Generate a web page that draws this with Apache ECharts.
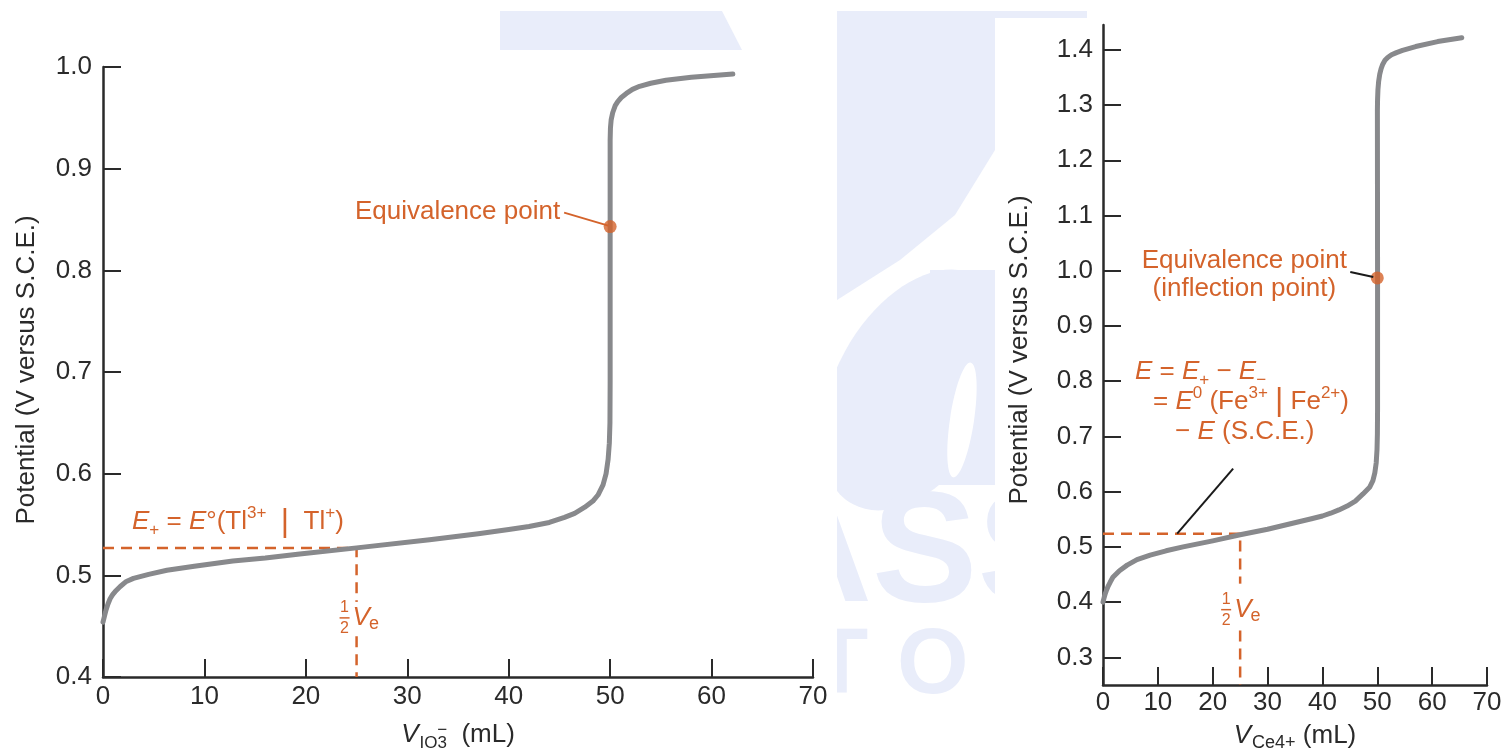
<!DOCTYPE html>
<html>
<head>
<meta charset="utf-8">
<script src="https://cdn.jsdelivr.net/npm/echarts@6/dist/echarts.min.js"></script>
<style>html,body{margin:0;padding:0;background:#fff}#c{width:1507px;height:749px}</style>
</head>
<body>
<div id="c"></div>
<script>
// ---------- data ----------
const xTicks = [0, 10, 20, 30, 40, 50, 60, 70];
const leftYTicks = [0.4, 0.5, 0.6, 0.7, 0.8, 0.9, 1.0];
const rightYTicks = [0.3, 0.4, 0.5, 0.6, 0.7, 0.8, 0.9, 1.0, 1.1, 1.2, 1.3, 1.4];

// Tl+ titrated with IO3-
const leftVol = [0, 0.15, 0.3, 0.5, 0.7, 0.95, 1.2, 1.7, 2.3, 3, 4.5, 6.3, 9, 12.8, 16, 19.4, 25, 32.2, 37, 40, 42, 44, 45.5, 46.5, 47.5, 48.3, 48.8, 49.3, 49.6, 49.8, 49.92, 49.98, 50.0, 50.0, 50.03, 50.1, 50.25, 50.5, 50.75, 51.1, 51.6, 52.2, 52.9, 54, 55.5, 58, 62.1];
const leftPot = [0.454, 0.460, 0.466, 0.472, 0.477, 0.481, 0.484, 0.489, 0.494, 0.497, 0.501, 0.505, 0.509, 0.514, 0.517, 0.521, 0.527, 0.535, 0.541, 0.545, 0.548, 0.552, 0.557, 0.561, 0.567, 0.573, 0.579, 0.589, 0.600, 0.614, 0.630, 0.650, 0.690, 0.928, 0.940, 0.948, 0.955, 0.962, 0.966, 0.970, 0.974, 0.978, 0.981, 0.984, 0.987, 0.990, 0.993];

// Fe2+ titrated with Ce4+
const rightVol = [0, 0.2, 0.4, 0.65, 0.9, 1.3, 1.8, 3, 4.4, 6.2, 8.6, 11.5, 14.6, 20, 25, 30, 35.9, 38, 40, 41.5, 43, 44.5, 46, 47.4, 48.6, 49.2, 49.55, 49.8, 49.95, 50.02, 50.05, 50.05, 50.02, 50.05, 50.12, 50.25, 50.45, 50.7, 51.0, 51.4, 51.9, 52.6, 53.5, 54.6, 57, 61, 65.4];
const rightPot = [0.400, 0.408, 0.415, 0.422, 0.428, 0.436, 0.445, 0.457, 0.467, 0.477, 0.485, 0.493, 0.500, 0.511, 0.522, 0.532, 0.546, 0.551, 0.556, 0.561, 0.567, 0.574, 0.583, 0.596, 0.608, 0.620, 0.634, 0.652, 0.676, 0.705, 0.75, 1.00, 1.290, 1.310, 1.328, 1.343, 1.356, 1.366, 1.374, 1.381, 1.386, 1.391, 1.395, 1.399, 1.406, 1.415, 1.422];

const leftEq = [50, 0.843];
const rightEq = [50, 0.987];
const leftHalf = [25, 0.527];
const rightHalf = [25, 0.524];

// ---------- style ----------
const ORANGE = '#d4632b';
const GRAY = '#88898c';
const INK = '#2a2a2a';
const FF = '"Liberation Sans", Arial, sans-serif';
const WM = '#e9edfa';
const TICKFS = 26;
const ANNFS = 26;

const chart = echarts.init(document.getElementById('c'), null, {renderer: 'canvas'});

function zip(a, b) { return a.map((v, i) => [v, b[i]]); }

function xAxisCfg(gi, margin) {
  return {
    type: 'value', gridIndex: gi, min: xTicks[0], max: xTicks[xTicks.length - 1], interval: 10,
    axisLine: {show: true, lineStyle: {color: INK, width: 2.5}},
    axisTick: {show: true, inside: true, length: 18, lineStyle: {color: INK, width: 2}},
    axisLabel: {show: true, margin: margin, fontSize: TICKFS, color: INK, fontFamily: FF, showMinLabel: true, showMaxLabel: true},
    splitLine: {show: false}
  };
}

const option = {
  backgroundColor: '#fff',
  animation: false,
  grid: [
    {left: 103, top: 67, width: 710, height: 610},
    {left: 1103, top: 25, width: 384, height: 660}
  ],
  xAxis: [xAxisCfg(0, 7), xAxisCfg(1, 5)],
  yAxis: [
    {
      type: 'value', gridIndex: 0, min: 0.4, max: 1.0, interval: 0.1,
      axisLine: {show: true, lineStyle: {color: INK, width: 2.5}},
      axisTick: {show: true, inside: true, length: 18, lineStyle: {color: INK, width: 2}},
      axisLabel: {margin: 11, fontSize: TICKFS, color: INK, fontFamily: FF, formatter: v => v.toFixed(1), showMinLabel: true, showMaxLabel: true},
      splitLine: {show: false}
    },
    {
      type: 'value', gridIndex: 1, min: 0.25, max: 1.445,
      axisLine: {show: true, lineStyle: {color: INK, width: 2.5}},
      axisTick: {show: true, inside: true, length: 18, lineStyle: {color: INK, width: 2}, customValues: rightYTicks},
      axisLabel: {margin: 10, fontSize: TICKFS, color: INK, fontFamily: FF, formatter: v => v.toFixed(1), customValues: rightYTicks},
      splitLine: {show: false}
    }
  ],
  series: [
    {
      type: 'line', xAxisIndex: 0, yAxisIndex: 0, data: [[0, leftHalf[1]], leftHalf, [leftHalf[0], leftYTicks[0]]],
      showSymbol: false, lineStyle: {color: ORANGE, width: 2.5, type: [11, 7]}, z: 2, silent: true
    },
    {
      type: 'line', xAxisIndex: 1, yAxisIndex: 1, data: [[0, rightHalf[1]], rightHalf, [rightHalf[0], 0.25]],
      showSymbol: false, lineStyle: {color: ORANGE, width: 2.5, type: [11, 7]}, z: 2, silent: true
    },
    {
      type: 'line', xAxisIndex: 0, yAxisIndex: 0, data: zip(leftVol, leftPot),
      showSymbol: false, smooth: false, lineStyle: {color: GRAY, width: 5, cap: 'round', join: 'round'}, z: 3
    },
    {
      type: 'line', xAxisIndex: 1, yAxisIndex: 1, data: zip(rightVol, rightPot),
      showSymbol: false, smooth: false, lineStyle: {color: GRAY, width: 5, cap: 'round', join: 'round'}, z: 3
    },
    {
      type: 'scatter', xAxisIndex: 0, yAxisIndex: 0, data: [leftEq], symbolSize: 13,
      itemStyle: {color: ORANGE}, z: 6
    },
    {
      type: 'scatter', xAxisIndex: 1, yAxisIndex: 1, data: [rightEq], symbolSize: 13,
      itemStyle: {color: ORANGE}, z: 6
    }
  ]
};
chart.setOption(option);

// ---------- annotations ----------
const ctx = document.createElement('canvas').getContext('2d');
function tw(t, size, style) { ctx.font = (style || '') + ' ' + size + 'px "Liberation Sans"'; return ctx.measureText(t).width; }
const L = p => chart.convertToPixel({gridIndex: 0}, p);
const R = p => chart.convertToPixel({gridIndex: 1}, p);

function txt(text, x, y, size, color, opts) {
  opts = opts || {};
  return {
    type: 'text', z: opts.z || 100,
    style: {
      text: text, x: x, y: y, fill: color,
      font: (opts.style || '') + ' ' + (opts.weight || '') + ' ' + size + 'px ' + FF,
      align: opts.align || 'left', verticalAlign: 'middle',
      textAlign: opts.align || 'left', textVerticalAlign: 'middle',
      rich: opts.rich
    }
  };
}
function line(x1, y1, x2, y2, color, w) {
  return {type: 'line', z: 100, shape: {x1, y1, x2, y2}, style: {stroke: color, lineWidth: w || 2}};
}
const richBase = (fs) => ({
  n: {fontSize: fs, fontFamily: FF, color: ORANGE, lineHeight: 34, verticalAlign: 'middle'},
  i: {fontSize: fs, fontFamily: FF, fontStyle: 'italic', color: ORANGE, lineHeight: 34, verticalAlign: 'middle'},
  sb: {fontSize: Math.round(fs * 0.64), fontFamily: FF, color: ORANGE, lineHeight: 17, verticalAlign: 'bottom'},
  sp: {fontSize: Math.round(fs * 0.64), fontFamily: FF, color: ORANGE, lineHeight: 17, verticalAlign: 'top'},
  bar: {fontSize: fs + 6, fontFamily: FF, color: ORANGE, lineHeight: 34, verticalAlign: 'middle', fontWeight: 100}
});

function halfLabel(cx, cy) {
  // stacked fraction 1/2 followed by italic V with subscript e
  const els = [];
  els.push(txt('1', cx, cy - 10, 16, ORANGE, {align: 'center'}));
  els.push(line(cx - 5, cy, cx + 5, cy, ORANGE, 1.5));
  els.push(txt('2', cx, cy + 11, 16, ORANGE, {align: 'center'}));
  const vx = cx + 8;
  els.push(txt('V', vx, cy, 26, ORANGE, {style: 'italic'}));
  const vw = tw('V', 26, 'italic');
  els.push(txt('e', vx + vw - 1, cy + 6, 18, ORANGE));
  return els;
}

const g = [];

// --- watermark (faint background) ---
g.push({type: 'polygon', z: -30, shape: {points: [[500, 11], [722, 11], [742, 50], [500, 50]]}, style: {fill: WM}});
g.push({type: 'rect', z: -30, shape: {x: 837, y: 11, width: 250, height: 7}, style: {fill: WM}});
g.push({type: 'polygon', z: -30, shape: {points: [[837, 11], [995, 11], [995, 150], [955, 215], [900, 260], [837, 300]]}, style: {fill: WM}});
g.push({type: 'ellipse', z: -30, rotation: -0.5, originX: 915, originY: 390, shape: {cx: 915, cy: 390, rx: 80, ry: 130}, style: {fill: WM}});
g.push({type: 'rect', z: -30, shape: {x: 930, y: 270, width: 65, height: 215}, style: {fill: WM}});
g.push({type: 'ellipse', z: -29, rotation: -0.15, originX: 962, originY: 420, shape: {cx: 962, cy: 420, rx: 12, ry: 58}, style: {fill: '#ffffff'}});
g.push({type: 'text', z: -30, style: {text: 'ASS', x: 758, y: 636, font: 'bold 158px ' + FF, fill: WM, align: 'left', verticalAlign: 'bottom', textAlign: 'left', textVerticalAlign: 'bottom'}});
g.push({type: 'text', z: -30, style: {text: 'T', x: 812, y: 714, font: 'bold 92px ' + FF, fill: WM, align: 'left', verticalAlign: 'bottom', textAlign: 'left', textVerticalAlign: 'bottom'}});
g.push({type: 'text', z: -30, style: {text: 'O', x: 897, y: 714, font: 'bold 92px ' + FF, fill: WM, align: 'left', verticalAlign: 'bottom', textAlign: 'left', textVerticalAlign: 'bottom'}});
// figure paper boxes
g.push({type: 'rect', z: -20, shape: {x: 0, y: 50, width: 837, height: 699}, style: {fill: '#ffffff'}});
g.push({type: 'rect', z: -20, shape: {x: 995, y: 18, width: 512, height: 731}, style: {fill: '#ffffff'}});

// --- axis names ---
const yName = 'Potential (V versus S.C.E.)';
g.push({type: 'text', z: 100, rotation: Math.PI / 2, x: 27, y: 370,
  style: {text: yName, x: 0, y: 0, font: '26px ' + FF, fill: INK, align: 'center', verticalAlign: 'middle', textAlign: 'center', textVerticalAlign: 'middle'}});
g.push({type: 'text', z: 100, rotation: Math.PI / 2, x: 1020, y: 350,
  style: {text: yName, x: 0, y: 0, font: '26px ' + FF, fill: INK, align: 'center', verticalAlign: 'middle', textAlign: 'center', textVerticalAlign: 'middle'}});

// left x name: V_{IO3^-} (mL)
(function () {
  const fs = 26, ss = 17;
  const w = tw('V', fs, 'italic') + 1 + tw('IO', ss) + tw('3', ss) + tw('  (mL)', fs);
  let x = (L([0, 0.4])[0] + L([70, 0.4])[0]) / 2 - w / 2;
  const y = 735;
  g.push(txt('V', x, y, fs, INK, {style: 'italic'})); x += tw('V', fs, 'italic') + 1;
  g.push(txt('IO', x, y + 8, ss, INK)); x += tw('IO', ss);
  g.push(txt('3', x, y + 8, ss, INK));
  g.push(txt('\u2212', x + tw('3', ss) / 2, y - 5, ss, INK, {align: 'center'})); x += tw('3', ss);
  g.push(txt('  (mL)', x, y, fs, INK));
})();
// right x name: V_{Ce4+} (mL)
(function () {
  const fs = 26, ss = 18;
  const w = tw('V', fs, 'italic') + 1 + tw('Ce4+', ss) + tw(' (mL)', fs);
  let x = (R([0, 0.25])[0] + R([70, 0.25])[0]) / 2 - w / 2;
  const y = 736;
  g.push(txt('V', x, y, fs, INK, {style: 'italic'})); x += tw('V', fs, 'italic') + 1;
  g.push(txt('Ce4+', x, y + 7, ss, INK)); x += tw('Ce4+', ss);
  g.push(txt(' (mL)', x, y, fs, INK));
})();

// left chart annotations
(function () {
  const eq = L(leftEq);
  g.push(txt('Equivalence point', eq[0] - 50, eq[1] - 15, ANNFS, ORANGE, {align: 'right'}));
  g.push(line(eq[0] - 46, eq[1] - 14, eq[0] - 2, eq[1] - 1, ORANGE, 2));
  const h = L(leftHalf);
  const o = L([0, leftHalf[1]]);
  g.push(txt('{i|E}{sb|+}{n| = }{i|E}{n|\u00b0(Tl}{sp|3+}{n|  }{bar||}{n|  Tl}{sp|+}{n|)}', o[0] + 29, h[1] - 26, ANNFS, ORANGE, {rich: richBase(ANNFS)}));
  g.push({type: 'rect', z: 90, shape: {x: h[0] - 6, y: h[1] + 54, width: 12, height: 32}, style: {fill: '#fff'}});
  halfLabel(h[0] - 12, h[1] + 70).forEach(e => g.push(e));
})();

// right chart annotations
(function () {
  const eq = R(rightEq);
  g.push(txt('Equivalence point', eq[0] - 133, eq[1] - 17, ANNFS, ORANGE, {align: 'center'}));
  g.push(txt('(inflection point)', eq[0] - 133, eq[1] + 11, ANNFS, ORANGE, {align: 'center'}));
  g.push(line(eq[0] - 27, eq[1] - 6, eq[0] - 4, eq[1] - 1, '#1a1a1a', 2));
  const h = R(rightHalf);
  const o = R([0, rightHalf[1]]);
  g.push(txt('{i|E}{n| = }{i|E}{sb|+}{n| \u2212 }{i|E}{sb|\u2212}', o[0] + 32, h[1] - 162, ANNFS, ORANGE, {rich: richBase(ANNFS)}));
  g.push(txt('{n|= }{i|E}{sp|0}{n| (Fe}{sp|3+}{n| }{bar||}{n| Fe}{sp|2+}{n|)}', o[0] + 50, h[1] - 132, ANNFS, ORANGE, {rich: richBase(ANNFS)}));
  g.push(txt('{n|\u2212 }{i|E}{n| (S.C.E.)}', o[0] + 72, h[1] - 102, ANNFS, ORANGE, {rich: richBase(ANNFS)}));
  g.push(line(h[0] - 63, h[1], h[0] - 7, h[1] - 65, '#1a1a1a', 2));
  g.push({type: 'rect', z: 90, shape: {x: h[0] - 6, y: h[1] + 50, width: 12, height: 45}, style: {fill: '#fff'}});
  halfLabel(h[0] - 14, h[1] + 76).forEach(e => g.push(e));
})();

chart.setOption({graphic: {elements: g}});
</script>
</body>
</html>
